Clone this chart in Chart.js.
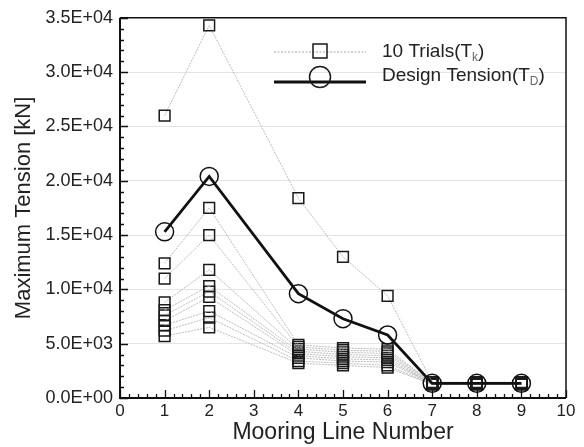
<!DOCTYPE html>
<html>
<head>
<meta charset="utf-8">
<script src="https://cdn.jsdelivr.net/npm/chart.js@4"></script>
<style>
html,body{margin:0;padding:0;background:#fff;}
canvas{display:block;}
</style>
</head>
<body>
<canvas id="c" width="584" height="447"></canvas>
<script>
// ---- data ----
const lineNumbers = [1, 2, 4, 5, 6, 7, 8, 9];
const designTension = [15300, 20400, 9600, 7300, 5800, 1350, 1350, 1350];
const trial1  = [26000, 34300, 18400, 13000, 9400, 1450, 1450, 1450];
const trial2  = [12400, 17500, 4900, 4600, 4500, 1400, 1400, 1400];
const trial3  = [11000, 15000, 4700, 4400, 4300, 1400, 1400, 1400];
const trial4  = [8800, 11800, 4500, 4200, 4100, 1350, 1350, 1350];
const trial5  = [8100, 10300, 4300, 4000, 3900, 1350, 1350, 1350];
const trial6  = [7600, 9800, 4100, 3800, 3700, 1300, 1300, 1300];
const trial7  = [7100, 9300, 3900, 3600, 3500, 1300, 1300, 1300];
const trial8  = [6700, 8000, 3700, 3400, 3300, 1300, 1300, 1300];
const trial9  = [6200, 7400, 3400, 3200, 3000, 1250, 1250, 1250];
const trial10 = [5700, 6500, 3200, 3000, 2800, 1250, 1250, 1250];
const trials = [trial1, trial2, trial3, trial4, trial5, trial6, trial7, trial8, trial9, trial10];
const xTickValues = [0, 1, 2, 3, 4, 5, 6, 7, 8, 9, 10];
const yTickValues = [0, 5000, 10000, 15000, 20000, 25000, 30000, 35000];
const legendLabels = [["10 Trials(T", "k", ")"], ["Design Tension(T", "D", ")"]];
const xTitle = "Mooring Line Number";
const yTitle = "Maximum Tension [kN]";

function fmtE(v) {
  if (v === 0) return "0.0E+00";
  const e = Math.floor(Math.log10(Math.abs(v)));
  const m = v / Math.pow(10, e);
  return m.toFixed(1) + "E" + (e < 0 ? "-" : "+") + String(Math.abs(e)).padStart(2, "0");
}
const toPts = arr => lineNumbers.map((x, i) => ({x: x, y: arr[i]}));

const FONT = "'Liberation Sans', Arial, sans-serif";

const datasets = trials.map((t, i) => ({
  label: "Trial " + (i + 1),
  data: toPts(t),
  borderColor: "#bcbcbc",
  borderWidth: 1,
  borderDash: [2, 1],
  pointStyle: "rect",
  pointRadius: 7.6,
  pointBorderColor: "#1a1a1a",
  pointBackgroundColor: "rgba(255,255,255,0)",
  pointBorderWidth: 1.5,
  order: 2
}));
datasets.push({
  label: "Design Tension",
  data: toPts(designTension),
  borderColor: "#111",
  borderWidth: 2.8,
  pointStyle: "circle",
  pointRadius: 9,
  pointBorderColor: "#111",
  pointBackgroundColor: "rgba(255,255,255,0)",
  pointBorderWidth: 1.5,
  order: 1
});

const framePlugin = {
  id: "frame",
  afterDatasetsDraw(chart) {
    const ctx = chart.ctx, a = chart.chartArea;
    const xs = chart.scales.x, ys = chart.scales.y;
    ctx.save();
    ctx.strokeStyle = "#111";
    // frame
    ctx.lineWidth = 1.5;
    ctx.beginPath();
    ctx.moveTo(a.left, a.top); ctx.lineTo(a.right, a.top); ctx.lineTo(a.right, a.bottom);
    ctx.stroke();
    ctx.lineWidth = 2;
    ctx.beginPath();
    ctx.moveTo(a.left, a.top); ctx.lineTo(a.left, a.bottom); ctx.lineTo(a.right, a.bottom);
    ctx.stroke();
    // inward ticks
    ctx.lineWidth = 1.3;
    ctx.beginPath();
    for (let v = 0; v <= 10.0001; v += 0.2) {
      const px = Math.round(xs.getPixelForValue(v)) + 0.5;
      const major = Math.abs(v - Math.round(v)) < 1e-6;
      ctx.moveTo(px, a.bottom);
      ctx.lineTo(px, a.bottom - (major ? 8 : 4));
    }
    for (let v = 0; v <= 35000.1; v += 1000) {
      const py = Math.round(ys.getPixelForValue(v)) + 0.5;
      const major = v % 5000 === 0;
      ctx.moveTo(a.left, py);
      ctx.lineTo(a.left + (major ? 8 : 4), py);
    }
    ctx.stroke();
    // legend
    const rows = [
      {lineY: 52, markY: 51, textY: 52, dash: [2, 1.5], color: "#a8a8a8", w: 1, style: "rect"},
      {lineY: 82, markY: 77, textY: 76, dash: [], color: "#111", w: 2.8, style: "circle"}
    ];
    const lx0 = 274, lx1 = 366, mx = 320, tx = 382;
    rows.forEach((r, i) => {
      ctx.save();
      ctx.setLineDash(r.dash);
      ctx.strokeStyle = r.color;
      ctx.lineWidth = r.w;
      ctx.beginPath(); ctx.moveTo(lx0, r.lineY); ctx.lineTo(lx1, r.lineY); ctx.stroke();
      ctx.restore();
      ctx.lineWidth = 1.5;
      ctx.strokeStyle = "#1a1a1a";
      ctx.beginPath();
      if (r.style === "rect") ctx.rect(mx - 7, r.markY - 7, 14, 14);
      else ctx.arc(mx, r.markY, 10.5, 0, Math.PI * 2);
      ctx.stroke();
      const parts = legendLabels[i];
      ctx.fillStyle = "#222";
      ctx.textBaseline = "middle";
      ctx.textAlign = "left";
      ctx.font = "19px " + FONT;
      let x = tx;
      ctx.fillText(parts[0], x, r.textY);
      x += ctx.measureText(parts[0]).width;
      ctx.font = "12px " + FONT;
      ctx.fillStyle = "#666";
      ctx.fillText(parts[1], x, r.textY + 6);
      x += ctx.measureText(parts[1]).width;
      ctx.font = "19px " + FONT;
      ctx.fillStyle = "#222";
      ctx.fillText(parts[2], x, r.textY);
    });
    ctx.restore();
  }
};

new Chart(document.getElementById("c"), {
  type: "line",
  data: {datasets},
  options: {
    responsive: false,
    animation: false,
    layout: {padding: {top: 15, right: 18, left: 0, bottom: 0}},
    plugins: {legend: {display: false}, tooltip: {enabled: false}},
    scales: {
      x: {
        type: "linear", min: 0, max: 10,
        afterFit(s) { s.height = 49; },
        afterBuildTicks(s) { s.ticks = xTickValues.map(v => ({value: v})); },
        grid: {display: false, drawTicks: false},
        border: {display: false},
        ticks: {color: "#222", font: {family: FONT, size: 17}, padding: 3, maxRotation: 0},
        title: {display: true, text: xTitle, color: "#222", font: {family: FONT, size: 23}, padding: {top: 0, bottom: 1}}
      },
      y: {
        type: "linear", min: 0, max: 35000,
        afterFit(s) { s.width = 120; },
        afterBuildTicks(s) { s.ticks = yTickValues.map(v => ({value: v})); },
        grid: {color: "#e4e4e4", lineWidth: 1, drawTicks: false},
        border: {display: false},
        ticks: {color: "#222", font: {family: FONT, size: 18}, padding: 7, callback: v => fmtE(v)},
        title: {display: true, text: yTitle, color: "#222", font: {family: FONT, size: 22}, padding: {top: 11, bottom: 0}}
      }
    }
  },
  plugins: [framePlugin]
});
</script>
</body>
</html>
